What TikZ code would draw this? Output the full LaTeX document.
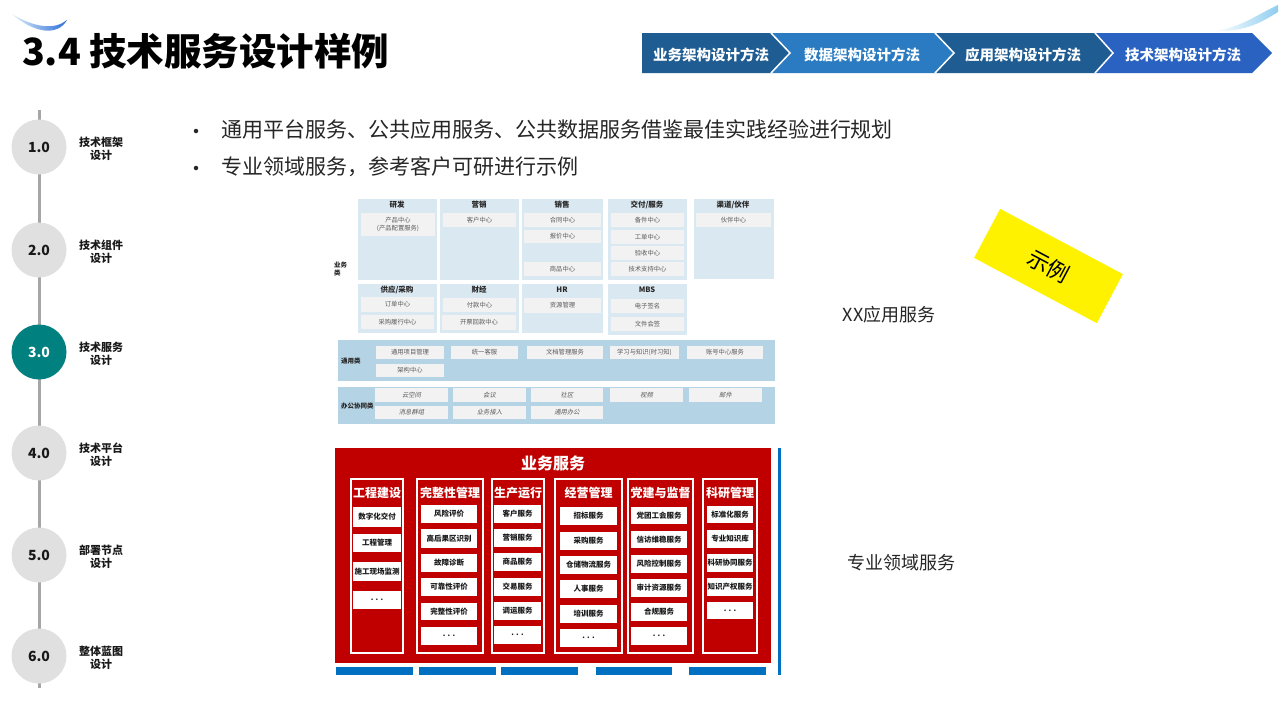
\documentclass[tikz,border=0pt]{standalone}
\usepackage{fontspec}
\setmainfont{Noto Sans CJK SC}[AutoFakeSlant=0.2]
\usetikzlibrary{shapes.geometric}
\definecolor{bizblue}{HTML}{DAE8F1}
\definecolor{band}{HTML}{B4D3E5}
\definecolor{itemgray}{HTML}{F2F2F2}
\definecolor{txtgray}{HTML}{595959}
\definecolor{redbg}{HTML}{C00000}
\definecolor{barblue}{HTML}{0070C0}
\definecolor{tealc}{HTML}{00807F}
\definecolor{circgray}{HTML}{E0E0E0}
\definecolor{linegray}{HTML}{A6A6A6}
\definecolor{chevA}{HTML}{1F5C92}
\definecolor{chevB}{HTML}{2A7BC1}
\definecolor{chevD}{HTML}{2962C1}
\definecolor{swA}{HTML}{2E6FD8}
\definecolor{swB}{HTML}{8FCDF0}
\definecolor{dark}{HTML}{262626}
\newcommand{\bx}[7]{\node[#1,minimum width={#4-#2},minimum height={#5-#3}] (#6) at ({(#2+#4)/2},{(#3+#5)/2}) {#7};}
\begin{document}
\begin{tikzpicture}[x=1pt,y=-1pt,
 every node/.style={inner sep=0pt,outer sep=0pt},
 chevtxt/.style={text=white,font=\fontsize{14.5}{16}\selectfont\bfseries},
 tlcirc/.style={circle,fill=circgray,minimum size=55,font=\fontsize{14}{16}\selectfont\bfseries,text=black!90},
 tllab/.style={align=center,font=\fontsize{11}{13}\selectfont\bfseries,text=black!90},
 bizcol/.style={rectangle,fill=bizblue,draw=white,line width=1pt},
 btitle/.style={font=\fontsize{7.5}{8}\selectfont\bfseries,text=black!85},
 uitem/.style={rectangle,fill=itemgray,align=center,text=txtgray,font=\fontsize{6.3}{7.3}\selectfont},
 uitemi/.style={uitem,font=\fontsize{6.3}{7.3}\selectfont\itshape},
 uband/.style={rectangle,fill=band},
 ulab/.style={anchor=west,font=\fontsize{6.5}{7.5}\selectfont\bfseries,text=black!85,align=left},
 rcol/.style={rectangle,draw=white,line width=1.3pt},
 rhead/.style={text=white,font=\fontsize{12}{14}\selectfont\bfseries},
 ritem/.style={rectangle,fill=white,text=black!90,font=\fontsize{7.5}{9}\selectfont\bfseries},
 bbar/.style={rectangle,fill=barblue},
 side/.style={font=\fontsize{18}{20}\selectfont,text=dark},
 bul/.style={anchor=west,font=\fontsize{21}{24}\selectfont,text=dark},
 bdot/.style={circle,fill=dark,minimum size=4.5},
]
\useasboundingbox (0,0) rectangle (1280,720);
\fill[white] (0,0) rectangle (1280,720);

% swooshes
\shade[left color=swB!30, right color=swA] (12,14) .. controls (35,34) and (58,36) .. (67,20) .. controls (55,30) and (35,28) .. (12,14);
\shade[left color=white, right color=swB] (1215,31) .. controls (1245,32) and (1262,22) .. (1278,12) -- (1278,5) .. controls (1258,14) and (1242,27) .. (1215,31);

% title
\node[anchor=west,font=\fontsize{37.5}{40}\selectfont\bfseries] (title) at (22,51) {3.4 技术服务设计样例};

% breadcrumb
\fill[chevA] (642,33) -- (771,33) -- (790,53) -- (771,73) -- (642,73) -- cycle;
\fill[chevB] (771,33) -- (935,33) -- (954,53) -- (935,73) -- (771,73) -- (790,53) -- cycle;
\fill[chevA] (935,33) -- (1095,33) -- (1113,53) -- (1095,73) -- (935,73) -- (954,53) -- cycle;
\fill[chevD] (1095,33) -- (1252,33) -- (1272,53) -- (1252,73) -- (1095,73) -- (1113,53) -- cycle;
\draw[white,line width=1.5pt] (771,33) -- (790,53) -- (771,73);
\draw[white,line width=1.5pt] (935,33) -- (954,53) -- (935,73);
\draw[white,line width=1.5pt] (1095,33) -- (1113,53) -- (1095,73);
\node[chevtxt] (bc1) at (711,55) {业务架构设计方法};
\node[chevtxt] (bc2) at (862,55) {数据架构设计方法};
\node[chevtxt] (bc3) at (1023,55) {应用架构设计方法};
\node[chevtxt] (bc4) at (1183,55) {技术架构设计方法};

% timeline
\coordinate (tltop) at (39,110);
\coordinate (tlbot) at (39,688);
\draw[linegray,line width=3pt] (tltop) -- (tlbot);
\foreach \i/\y/\t in {1/147/技术框架,2/250/技术组件,4/453/技术平台,5/555/部署节点,6/656/整体蓝图}{
  \node[tlcirc] (c\i) at (39,\y) {\i.0};
  \node[tllab] (l\i) at (101,\y+2) {\t\\设计};
}
\node[tlcirc,fill=tealc,text=white] (c3) at (39,352) {3.0};
\node[tllab] (l3) at (101,354) {技术服务\\设计};

% bullets
\node[bdot] (d1) at (196,131) {};
\node[bul] (b1) at (221,130) {通用平台服务、公共应用服务、公共数据服务借鉴最佳实践经验进行规划};
\node[bdot] (d2) at (196,168) {};
\node[bul] (b2) at (221,167) {专业领域服务，参考客户可研进行示例};

% ---------- upper diagram ----------
\node[ulab] (ywl) at (334,269) {业务\\类};
\bx{bizcol}{357}{198}{437}{280}{k1}{}
\bx{bizcol}{439}{198}{519}{280}{k2}{}
\bx{bizcol}{521}{198}{603}{280}{k3}{}
\bx{bizcol}{607}{198}{687}{280}{k4}{}
\bx{bizcol}{693}{198}{774}{279}{k5}{}
\bx{bizcol}{357}{283}{437}{333}{k6}{}
\bx{bizcol}{439}{283}{519}{333}{k7}{}
\bx{bizcol}{521}{283}{603}{333}{k8}{}
\bx{bizcol}{607}{283}{687}{335}{k9}{}
\node[btitle] (t1) at (397,205) {研发};
\node[btitle] (t2) at (479,205) {营销};
\node[btitle] (t3) at (562,205) {销售};
\node[btitle] (t4) at (647,205) {交付/服务};
\node[btitle] (t5) at (733,205) {渠道/伙伴};
\node[btitle] (t6) at (397,290) {供应/采购};
\node[btitle] (t7) at (479,290) {财经};
\node[btitle] (t8) at (562,290) {HR};
\node[btitle] (t9) at (647,290) {MBS};
\bx{uitem}{361}{213}{435}{236}{u1}{产品中心\\(产品配置服务)}
\bx{uitem}{443}{213}{516}{227}{u2}{客户中心}
\bx{uitem}{524}{213}{601}{227}{u3}{合同中心}
\bx{uitem}{524}{230}{601}{243}{u4}{报价中心}
\bx{uitem}{524}{262}{601}{276}{u5}{商品中心}
\bx{uitem}{611}{213}{684}{227}{u6}{备件中心}
\bx{uitem}{611}{230}{684}{244}{u7}{工单中心}
\bx{uitem}{611}{246}{684}{260}{u8}{验收中心}
\bx{uitem}{611}{262}{684}{276}{u9}{技术支持中心}
\bx{uitem}{696}{213}{771}{227}{u10}{伙伴中心}
\bx{uitem}{361}{297}{434}{312}{u11}{订单中心}
\bx{uitem}{361}{315}{434}{329}{u12}{采购履行中心}
\bx{uitem}{443}{298}{516}{312}{u13}{付款中心}
\bx{uitem}{442}{315}{516}{330}{u14}{开票回款中心}
\bx{uitem}{524}{298}{601}{313}{u15}{资源管理}
\bx{uitem}{611}{299}{684}{313}{u16}{电子签名}
\bx{uitem}{611}{317}{684}{331}{u17}{文件会签}

\bx{uband}{338}{340}{775}{381}{gband}{}
\node[ulab] (gl) at (341,361) {通用类};
\bx{uitem}{376}{346}{444}{359}{g1}{通用项目管理}
\bx{uitem}{451}{346}{518}{359}{g2}{统一客服}
\bx{uitem}{527}{346}{603}{359}{g3}{文档管理服务}
\bx{uitem}{610}{346}{679}{359}{g4}{学习与知识(时习知)}
\bx{uitem}{687}{346}{763}{359}{g5}{账号中心服务}
\bx{uitem}{376}{364}{444}{377}{g6}{架构中心}

\bx{uband}{338}{387}{775}{424}{oband}{}
\node[ulab,font=\fontsize{6.5}{7.5}\selectfont\bfseries\itshape] (ol) at (341,406) {办公协同类};
\bx{uitemi}{375}{388}{448}{402}{o1}{云空间}
\bx{uitemi}{453}{388}{526}{402}{o2}{会议}
\bx{uitemi}{531}{388}{603}{402}{o3}{社区}
\bx{uitemi}{610}{388}{683}{402}{o4}{视频}
\bx{uitemi}{689}{388}{762}{402}{o5}{邮件}
\bx{uitemi}{375}{406}{448}{419}{o6}{消息群组}
\bx{uitemi}{453}{406}{526}{419}{o7}{业务接入}
\bx{uitemi}{531}{406}{603}{419}{o8}{通用办公}

% ---------- red diagram ----------
\bx{rectangle,fill=redbg}{335}{448}{771}{663}{red}{}
\node[text=white,font=\fontsize{16}{18}\selectfont\bfseries] (rt) at (553,463) {业务服务};
\bx{rcol}{351}{479}{403}{653}{r1}{}
\bx{rcol}{417}{479}{483}{653}{r2}{}
\bx{rcol}{492}{479}{544}{653}{r3}{}
\bx{rcol}{555}{479}{622}{653}{r4}{}
\bx{rcol}{628}{479}{693}{653}{r5}{}
\bx{rcol}{703}{479}{757}{653}{r6}{}
\node[rhead] (h1) at (377,493) {工程建设};
\node[rhead] (h2) at (450,493) {完整性管理};
\node[rhead] (h3) at (518,493) {生产运行};
\node[rhead] (h4) at (588.5,493) {经营管理};
\node[rhead] (h5) at (660.5,493) {党建与监督};
\node[rhead] (h6) at (730,493) {科研管理};
% col1
\bx{ritem}{353}{507}{401}{527}{a1}{数字化交付}
\bx{ritem}{353}{534}{401}{552}{a2}{工程管理}
\bx{ritem}{353}{562}{401}{581}{a3}{施工现场监测}
\bx{ritem}{353}{591}{401}{609}{a4}{. . .}
% col2
\bx{ritem}{421}{505}{477}{523}{e1}{风险评价}
\bx{ritem}{421}{529}{477}{548}{e2}{高后果区识别}
\bx{ritem}{421}{554}{477}{572}{e3}{故障诊断}
\bx{ritem}{421}{578}{477}{596}{e4}{可靠性评价}
\bx{ritem}{421}{603}{477}{620}{e5}{完整性评价}
\bx{ritem}{421}{627}{477}{645}{e6}{. . .}
% col3
\bx{ritem}{494}{505}{541}{523}{s1}{客户服务}
\bx{ritem}{494}{529}{541}{547}{s2}{营销服务}
\bx{ritem}{494}{553}{541}{571}{s3}{商品服务}
\bx{ritem}{494}{578}{541}{596}{s4}{交易服务}
\bx{ritem}{494}{602}{541}{620}{s5}{调运服务}
\bx{ritem}{494}{626}{541}{644}{s6}{. . .}
% col4
\bx{ritem}{560}{507}{617}{525}{m1}{招标服务}
\bx{ritem}{560}{532}{617}{550}{m2}{采购服务}
\bx{ritem}{560}{556}{617}{574}{m3}{仓储物流服务}
\bx{ritem}{560}{580}{617}{598}{m4}{人事服务}
\bx{ritem}{560}{605}{617}{623}{m5}{培训服务}
\bx{ritem}{560}{629}{617}{647}{m6}{. . .}
% col5
\bx{ritem}{631}{507}{687}{524}{p1}{党团工会服务}
\bx{ritem}{631}{531}{687}{548}{p2}{信访维稳服务}
\bx{ritem}{631}{555}{687}{573}{p3}{风险控制服务}
\bx{ritem}{631}{579}{687}{597}{p4}{审计资源服务}
\bx{ritem}{631}{603}{687}{621}{p5}{合规服务}
\bx{ritem}{631}{627}{687}{645}{p6}{. . .}
% col6
\bx{ritem}{707}{506}{753}{523}{q1}{标准化服务}
\bx{ritem}{707}{530}{753}{548}{q2}{专业知识库}
\bx{ritem}{707}{554}{753}{572}{q3}{科研协同服务}
\bx{ritem}{707}{578}{753}{596}{q4}{知识产权服务}
\bx{ritem}{707}{602}{753}{619}{q5}{. . .}

% blue bars
\bx{bbar}{336}{667}{413}{675}{bb1}{}
\bx{bbar}{419}{667}{496}{675}{bb2}{}
\bx{bbar}{501}{667}{578}{675}{bb3}{}
\bx{bbar}{596}{667}{672}{675}{bb4}{}
\bx{bbar}{689}{667}{766}{675}{bb5}{}
\coordinate (vl1) at (779.5,448);
\coordinate (vl2) at (779.5,675);
\draw[barblue,line width=3pt] (vl1) -- (vl2);

% right labels
\node[side] (xx) at (889,315) {XX应用服务};
\node[side] (zy) at (901,563) {专业领域服务};
\node[rectangle,fill=yellow,minimum width=139,minimum height=55.5,rotate=-28,font=\fontsize{22}{24}\selectfont,text=black] (ex) at (1048.5,266) {示例};
\end{tikzpicture}
\end{document}
